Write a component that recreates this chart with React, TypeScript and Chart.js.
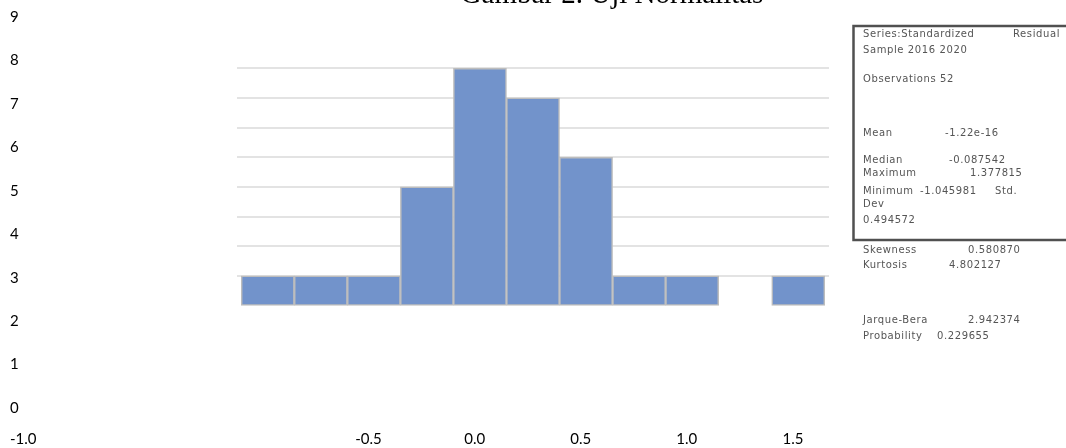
import React, { useEffect, useRef } from "react";
import { Chart, registerables } from "chart.js";

Chart.register(...registerables);

// ---------- data ----------
const TITLE = "Gambar 2. Uji Normalitas";
const BIN_CENTERS = [-0.975, -0.725, -0.475, -0.225, 0.025, 0.275, 0.525, 0.775, 1.025, 1.275, 1.525];
const COUNTS = [1, 1, 1, 4, 8, 7, 5, 1, 1, 0, 1];
const Y_TICKS = [0, 1, 2, 3, 4, 5, 6, 7, 8, 9];
const GRID_LEVELS = [1, 2, 3, 4, 5, 6, 7, 8];
const X_TICK_VALUES = [-1.0, -0.5, 0, 0.5, 1.0, 1.5];
const X_TICK_LABELS = ["-1.0", "-0.5", "0.0", "0.5", "1.0", "1.5"];
const STAT_LINES: string[][] = [
  ["Series:Standardized", "Residual"],
  ["Sample 2016 2020"],
  ["Observations 52"],
  ["Mean", "-1.22e-16"],
  ["Median", "-0.087542"],
  ["Maximum", "1.377815"],
  ["Minimum", "-1.045981", "Std."],
  ["Dev"],
  ["0.494572"],
  ["Skewness", "0.580870"],
  ["Kurtosis", "4.802127"],
  ["Jarque-Bera", "2.942374"],
  ["Probability", "0.229655"],
];

// ---------- layout / style (not data) ----------
const TICK_FONT = { family: "Lato", size: 15 };
const X_TICK_GAP = 22;
const STAT_LINE_Y = [34, 50, 79, 133, 160, 173, 191, 204, 220, 250, 265, 320, 336];
const STAT_SEG_X = [
  [863, 1013],
  [863],
  [863],
  [863, 945],
  [863, 949],
  [863, 970],
  [863, 920, 995],
  [863],
  [863],
  [863, 968],
  [863, 949],
  [863, 968],
  [863, 937],
];

const decorPlugin = {
  id: "decor",
  afterDraw(chart: any) {
    const ctx = chart.ctx as CanvasRenderingContext2D;
    ctx.save();
    // title (partly above the page, as in the reference)
    ctx.font = "29px 'Liberation Serif'";
    ctx.fillStyle = "#000";
    ctx.textAlign = "center";
    ctx.textBaseline = "alphabetic";
    ctx.fillText(TITLE, 612, 2.5);

    // origin label of the x axis, in the y-label column
    const yl = chart.scales.y;
    const xs = chart.scales.x;
    ctx.font = `${TICK_FONT.size}px ${TICK_FONT.family}`;
    ctx.textAlign = "left";
    ctx.textBaseline = "middle";
    ctx.fillText(X_TICK_LABELS[0], yl.left, xs.top + X_TICK_GAP + (TICK_FONT.size * 1.2) / 2);

    // statistics box
    ctx.strokeStyle = "#505050";
    ctx.lineWidth = 2.5;
    ctx.strokeRect(853.5, 26, 300, 214);

    ctx.font = "10px 'DejaVu Sans'";
    (ctx as any).letterSpacing = "0.6px";
    ctx.fillStyle = "#555";
    ctx.textAlign = "left";
    ctx.textBaseline = "middle";
    STAT_LINES.forEach((segs, i) => {
      segs.forEach((s, j) => {
        ctx.fillText(s, STAT_SEG_X[i][j], STAT_LINE_Y[i]);
      });
    });
    (ctx as any).letterSpacing = "0px";
    ctx.restore();
  },
};

export default function App() {
  const ref = useRef<HTMLCanvasElement | null>(null);

  useEffect(() => {
    if (!ref.current) return;
    const chart = new Chart(ref.current, {
      type: "bar",
      data: {
        datasets: [
          {
            data: BIN_CENTERS.map((x, i) => ({ x, y: COUNTS[i] })),
            backgroundColor: "#7293cb",
            borderColor: "#bdbdbd",
            borderWidth: 1.5,
            borderSkipped: false,
            barPercentage: 1,
            categoryPercentage: 1,
            xAxisID: "x",
            yAxisID: "yb",
          } as any,
        ],
      },
      options: {
        animation: false,
        responsive: false,
        devicePixelRatio: 1,
        events: [],
        layout: { padding: { left: 10, top: 17, right: 237, bottom: 0 } },
        plugins: {
          legend: { display: false },
          title: { display: false },
          tooltip: { enabled: false },
        },
        scales: {
          x: {
            type: "linear",
            position: "bottom",
            min: -1.12,
            max: 1.67,
            offset: false,
            grid: { display: false, drawTicks: true, tickLength: X_TICK_GAP },
            border: { display: false },
            afterBuildTicks: (scale: any) => {
              scale.ticks = X_TICK_VALUES.slice(1).map((v) => ({ value: v }));
            },
            ticks: {
              autoSkip: false,
              maxRotation: 0,
              padding: 0,
              color: "#000",
              font: TICK_FONT,
              callback: (_v: any, i: number) => X_TICK_LABELS[i + 1],
            },
          },
          y: {
            type: "linear",
            position: "left",
            min: 0,
            max: 9,
            grid: { display: false, drawTicks: false },
            border: { display: false },
            afterBuildTicks: (scale: any) => {
              scale.ticks = Y_TICKS.map((v) => ({ value: v }));
            },
            afterFit: (scale: any) => {
              scale.width = 227;
            },
            ticks: {
              autoSkip: false,
              crossAlign: "far",
              color: "#000",
              font: TICK_FONT,
              callback: (v: any) => String(v),
            },
          },
          yb: {
            type: "linear",
            position: "right",
            min: -3.457,
            max: 9.73,
            grid: { display: true, drawTicks: false, color: "#e3e3e3", lineWidth: 2 },
            border: { display: false },
            afterBuildTicks: (scale: any) => {
              scale.ticks = GRID_LEVELS.map((v) => ({ value: v }));
            },
            ticks: { display: false },
          },
        },
      } as any,
      plugins: [decorPlugin],
    });
    return () => chart.destroy();
  }, []);

  return (
    <div
      style={{
        position: "absolute",
        left: 0,
        top: 0,
        width: 1066,
        height: 448,
        overflow: "hidden",
        background: "#fff",
      }}
    >
      <canvas ref={ref} width={1066} height={448} style={{ display: "block" }} />
    </div>
  );
}
